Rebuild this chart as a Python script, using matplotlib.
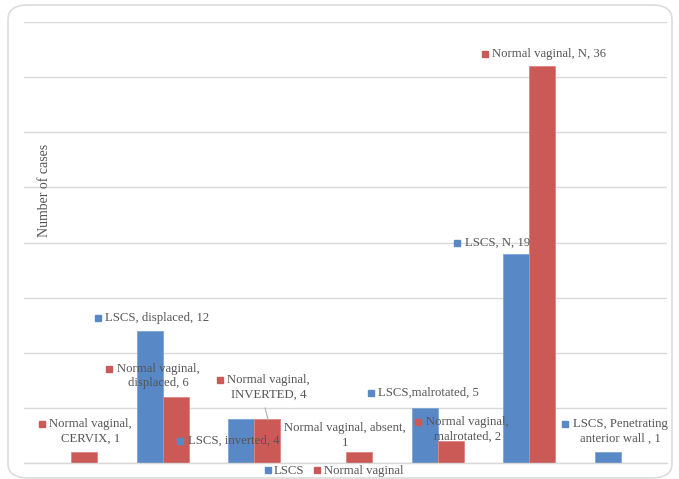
import matplotlib.pyplot as plt
from matplotlib.patches import FancyBboxPatch
from matplotlib.lines import Line2D

# Placenta findings by mode of delivery
categories = ['CERVIX', 'displaced', 'inverted', 'absent', 'malrotated', 'N',
              'Penetrating anterior wall']
lscs = [0, 12, 4, 0, 5, 19, 1]
normal_vaginal = [1, 6, 4, 1, 2, 36, 0]

lscs_labels = ['', 'LSCS, displaced, 12', 'LSCS, inverted, 4', '',
               'LSCS,malrotated, 5', 'LSCS, N, 19',
               'LSCS, Penetrating\nanterior wall , 1']
normal_labels = ['Normal vaginal,\nCERVIX, 1', 'Normal vaginal,\ndisplaced, 6',
                 'Normal vaginal,\nINVERTED, 4', 'Normal vaginal, absent,\n1',
                 'Normal vaginal,\nmalrotated, 2', 'Normal vaginal, N, 36', '']

# where each data label's colour key sits (x in category units, y in cases)
lscs_label_pos = [None, (0.29, 13.15), (1.19, 2.0), None, (3.27, 6.35),
                  (4.21, 19.95), (5.39, 3.54)]
normal_label_pos = [(-0.32, 3.54), (0.42, 8.53), (1.62, 7.53), (2.24, 3.17),
                    (3.79, 3.72), (4.51, 37.1), None]

blue = '#5889c6'
red = '#cb5a57'
text_col = '#555555'
grid_col = '#d9d9d9'
font = 'Liberation Serif'

fig = plt.figure(figsize=(6.79, 4.79), dpi=100)
fig.patch.set_facecolor('white')

# rounded card behind the chart
card = FancyBboxPatch((8 / 679, 1 / 479), 664 / 679, 473 / 479,
                      boxstyle='round,pad=0,rounding_size=0.03',
                      transform=fig.transFigure, facecolor='white',
                      edgecolor='#dcdcdc', linewidth=1.2, zorder=-10)
fig.patches.append(card)

ax = fig.add_axes([24 / 679, 16 / 479, 643 / 679, 441 / 479])
ax.set_facecolor('none')
ax.set_zorder(1)

x = list(range(len(categories)))
w = 0.284
ax.bar([i - w / 2 for i in x], lscs, width=w, color=blue,
       edgecolor='#7fa6d6', linewidth=0.6, zorder=2)
ax.bar([i + w / 2 for i in x], normal_vaginal, width=w, color=red,
       edgecolor='#dc8582', linewidth=0.6, zorder=2)

ax.set_xlim(-0.512, 6.5)
ax.set_ylim(0, 40)
ax.set_yticks(range(0, 41, 5))
ax.yaxis.grid(True, color=grid_col, linewidth=1.0, zorder=0)
ax.set_axisbelow(True)
ax.tick_params(left=False, bottom=False, labelleft=False, labelbottom=False)
for s in ['top', 'right', 'left']:
    ax.spines[s].set_visible(False)
ax.spines['bottom'].set_color(grid_col)
ax.spines['bottom'].set_linewidth(1.0)

ax.text(0.032, 0.617, 'Number of cases', transform=ax.transAxes, rotation=90,
        ha='center', va='center', fontsize=10, color=text_col, family=font)


def data_label(pos, text, color):
    if pos is None or not text:
        return
    ax.plot(pos[0], pos[1], marker='s', markersize=4.5, color=color,
            linestyle='', zorder=4)
    two_lines = '\n' in text
    ax.annotate(text, xy=pos, xytext=(5.5, 4.5 if two_lines else 0),
                textcoords='offset points', ha='left',
                va='top' if two_lines else 'center', multialignment='center',
                fontsize=9.2, color=text_col, family=font, zorder=5,
                linespacing=1.3)


for pos, txt in zip(lscs_label_pos, lscs_labels):
    data_label(pos, txt, blue)
for pos, txt in zip(normal_label_pos, normal_labels):
    data_label(pos, txt, red)

# leader line from the INVERTED label to its bar
ax.plot([2.117, 2.15], [5.0, 3.9], color='#a6a6a6', linewidth=0.7, zorder=3)

handles = [Line2D([0], [0], marker='s', color=blue, linestyle='', markersize=5,
                  label='LSCS'),
           Line2D([0], [0], marker='s', color=red, linestyle='', markersize=5,
                  label='Normal vaginal')]
fig.legend(handles=handles, loc='center', bbox_to_anchor=(333 / 679, 8 / 479),
           ncol=2, frameon=False, handletextpad=0.1, columnspacing=0.6,
           handlelength=0.8, prop={'family': font, 'size': 9.2},
           labelcolor=text_col)

fig.savefig('out.png', dpi=100)
